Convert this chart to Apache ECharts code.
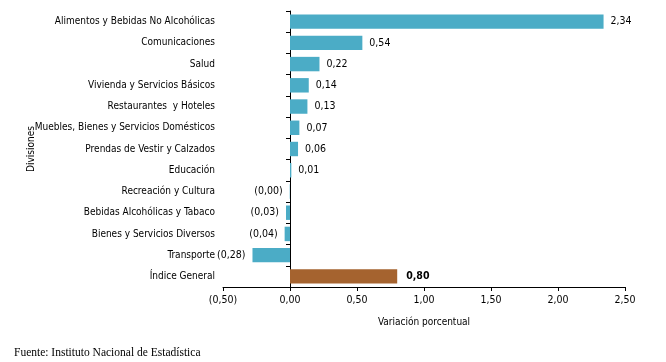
<!DOCTYPE html>
<html>
<head>
<meta charset="utf-8">
<script src="https://cdn.jsdelivr.net/npm/echarts@6/dist/echarts.min.js"></script>
<style>
html,body{margin:0;padding:0;background:#fff;}
#chart{width:666px;height:362px;}
</style>
</head>
<body>
<div id="chart"></div>
<script>
const categories = [
  "Alimentos y Bebidas No Alcohólicas",
  "Comunicaciones",
  "Salud",
  "Vivienda y Servicios Básicos",
  "Restaurantes  y Hoteles",
  "Muebles, Bienes y Servicios Domésticos",
  "Prendas de Vestir y Calzados",
  "Educación",
  "Recreación y Cultura",
  "Bebidas Alcohólicas y Tabaco",
  "Bienes y Servicios Diversos",
  "Transporte",
  "Índice General"
];
const values = [2.34, 0.54, 0.22, 0.14, 0.13, 0.07, 0.06, 0.01, -0.002, -0.03, -0.04, -0.28, 0.80];
const highlightCategory = "Índice General";
const xTickMin = -0.5, xTickMax = 2.5, xTickStep = 0.5;
const axisTitleX = "Variación porcentual";
const axisTitleY = "Divisiones";
const sourceText = "Fuente: Instituto Nacional de Estadística";

const FONT = "'DejaVu Sans Condensed', sans-serif";
const FS = 10;
function fmt(v){
  const s = Math.abs(v).toFixed(2).replace('.', ',');
  return v < 0 ? '(' + s + ')' : s;
}
const chart = echarts.init(document.getElementById('chart'), null, {renderer:'canvas'});
const data = values.map((v,i)=>{
  const hi = categories[i] === highlightCategory;
  return {
    value: v,
    itemStyle: {color: hi ? '#A5632F' : '#4BACC6'},
    label: {
      position: v < 0 ? 'left' : 'right',
      fontWeight: hi ? 'bold' : 'normal',
      fontFamily: FONT,
      fontSize: 10.5,
      distance: hi ? 9 : 7
    }
  };
});
chart.setOption({
  animation:false,
  grid:{left:223, right:41, top:11, bottom:75, containLabel:false, outerBoundsMode:'none'},
  xAxis:{
    type:'value', min:xTickMin, max:xTickMax, interval:xTickStep,
    axisLine:{show:true, onZero:false, lineStyle:{color:'#000', width:1}},
    axisTick:{show:true, length:4, lineStyle:{color:'#000'}},
    splitLine:{show:false},
    axisLabel:{formatter:fmt, color:'#000', fontFamily:FONT, fontSize:10.5, margin:8},
    name:axisTitleX, nameLocation:'middle', nameGap:30,
    nameTextStyle:{color:'#000', fontFamily:FONT, fontSize:FS}
  },
  yAxis:{
    type:'category', data:categories, inverse:true,
    axisLine:{show:true, onZero:true, lineStyle:{color:'#000', width:1}},
    axisTick:{show:true, length:4, inside:false, lineStyle:{color:'#000'}},
    axisLabel:{color:'#000', fontFamily:FONT, fontSize:FS, margin:8},
    name:axisTitleY, nameLocation:'middle', nameGap:187, nameRotate:90, nameMoveOverlap:false,
    nameTextStyle:{color:'#000', fontFamily:FONT, fontSize:FS}
  },
  series:[{
    type:'bar', data:data, barCategoryGap:'32%',
    label:{show:true, formatter:p=>fmt(p.value), color:'#000', distance:7}
  }],
  graphic:[{
    type:'text', left:14, top:347,
    style:{text:sourceText, fill:'#000', font:"11.5px 'Liberation Serif', 'Times New Roman', serif"}
  }]
});
</script>
</body>
</html>
